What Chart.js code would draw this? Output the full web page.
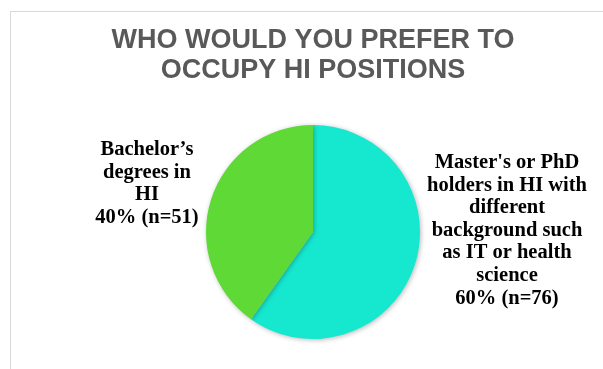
<!DOCTYPE html>
<html>
<head>
<meta charset="utf-8">
<script src="https://cdn.jsdelivr.net/npm/chart.js@4/dist/chart.umd.min.js"></script>
<style>
  html, body { margin: 0; padding: 0; background: #fff; }
  #wrap { position: relative; width: 603px; height: 369px; overflow: hidden; }
  #frame { position: absolute; left: 10px; top: 11px; width: 700px; height: 500px;
           border-top: 1px solid #d9d9d9; border-left: 1px solid #d9d9d9; }
  canvas { position: absolute; left: 0; top: 0; }
</style>
</head>
<body>
<div id="wrap">
  <div id="frame"></div>
  <canvas id="pieChart" width="603" height="369"></canvas>
</div>
<script>
const titleLines = ['WHO WOULD YOU PREFER TO', 'OCCUPY HI POSITIONS'];
const categories = [
  ["Master's or PhD", 'holders in HI with', 'different', 'background such', 'as IT or health', 'science'],
  ['Bachelor\u2019s', 'degrees in', 'HI']
];
const counts = [76, 51];
const percents = [60, 40];
const colors = ['#16e8d0', '#5ed936'];

// where each label block sits, relative to the pie centre
const labelOffsets = [
  { dx: 194, dy: -64 },
  { dx: -166, dy: -77 }
];

const shadowPlugin = {
  id: 'pieShadow',
  beforeDatasetDraw(chart) {
    const ctx = chart.ctx;
    ctx.save();
    ctx.shadowColor = 'rgba(0,0,0,0.28)';
    ctx.shadowBlur = 5;
    ctx.shadowOffsetX = 1;
    ctx.shadowOffsetY = 1;
  },
  afterDatasetDraw(chart) {
    chart.ctx.restore();
  }
};

const labelPlugin = {
  id: 'sideLabels',
  afterDatasetsDraw(chart) {
    const ctx = chart.ctx;
    const arcs = chart.getDatasetMeta(0).data;
    ctx.save();
    ctx.font = 'bold 20.5px "Liberation Serif", "Times New Roman", serif';
    ctx.fillStyle = '#000';
    ctx.textAlign = 'center';
    ctx.textBaseline = 'alphabetic';
    arcs.forEach((arc, i) => {
      const lines = categories[i].concat([percents[i] + '% (n=' + counts[i] + ')']);
      const x = arc.x + labelOffsets[i].dx;
      let y = arc.y + labelOffsets[i].dy;
      lines.forEach(line => {
        ctx.fillText(line, x, y);
        y += 22.6;
      });
    });
    ctx.restore();
  }
};

new Chart(document.getElementById('pieChart').getContext('2d'), {
  type: 'pie',
  data: {
    labels: categories,
    datasets: [{
      data: counts,
      backgroundColor: colors,
      borderWidth: 0
    }]
  },
  options: {
    responsive: false,
    animation: false,
    layout: { padding: { left: 23, right: 0, top: 0, bottom: 30 } },
    plugins: {
      legend: { display: false },
      tooltip: { enabled: false },
      title: {
        display: true,
        text: titleLines,
        color: '#595959',
        font: { family: '"Liberation Sans", Arial, sans-serif', size: 27, weight: 'bold', lineHeight: 1.111 },
        padding: { top: 26, bottom: 39 }
      }
    }
  },
  plugins: [shadowPlugin, labelPlugin]
});
</script>
</body>
</html>
